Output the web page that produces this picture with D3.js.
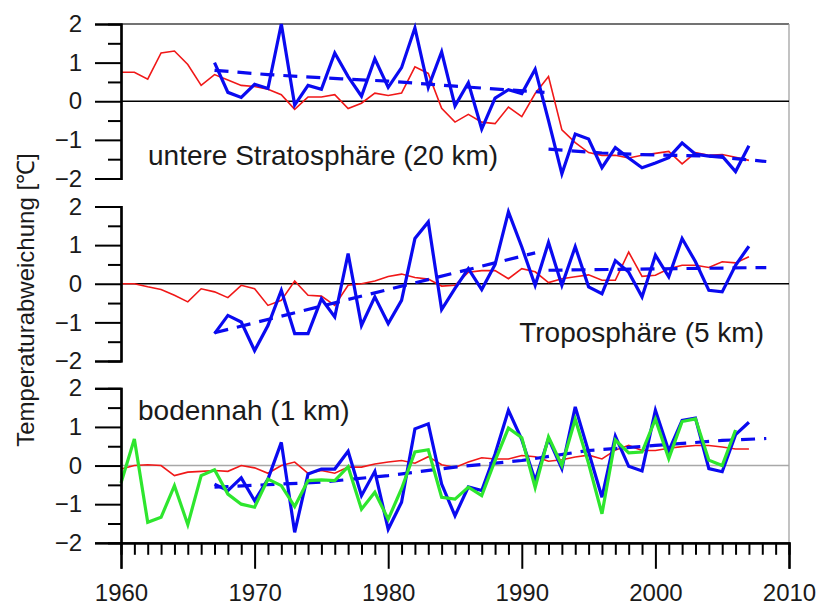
<!DOCTYPE html>
<html>
  <head>
    <meta charset="utf-8">
    <title>Temperaturabweichung</title>
    <script src="https://d3js.org/d3.v7.min.js"></script>
    <style>
      body { margin: 0; background: #fff; }
      svg text { font-family: "Liberation Sans", Arial, sans-serif; fill: #1a1a1a; }
    </style>
  </head>
  <body>
    <script>
      // years for the series
      var yearsRed = d3.range(1960, 2008);   // 1960..2007
      var yearsBlue = d3.range(1967, 2008);  // 1967..2007
      var yearsGreen = d3.range(1960, 2007); // 1960..2006

      // upper panel: untere Stratosphäre (20 km)
      var stratoRed = [0.75, 0.75, 0.57, 1.25, 1.3, 0.95, 0.41, 0.69, 0.55, 0.41,
        0.38, 0.31, 0.17, -0.21, 0.11, 0.11, 0.17, -0.19, -0.05, 0.21,
        0.15, 0.21, 0.89, 0.72, -0.18, -0.54, -0.34, -0.54, -0.58, -0.15,
        -0.4, 0.2, 0.64, -0.74, -1.07, -1.33, -1.4, -1.4, -1.47, -1.4,
        -1.35, -1.3, -1.62, -1.33, -1.4, -1.38, -1.45, -1.53];
      var stratoBlue = [1.0, 0.23, 0.1, 0.44, 0.33, 2.0, -0.1, 0.41, 0.31, 1.25,
        0.64, 0.13, 1.1, 0.36, 0.87, 1.9, 0.36, 1.28, -0.12, 0.48,
        -0.72, 0.08, 0.3, 0.2, 0.83, -0.5, -1.88, -0.85, -0.98, -1.72,
        -1.2, -1.47, -1.72, -1.6, -1.46, -1.08, -1.37, -1.42, -1.42, -1.82, -1.15];
      var stratoTrend = [
        [[1967, 0.8], [1971, 0.69], [1976.5, 0.58], [1980, 0.52], [1985, 0.39], [1991.7, 0.23]],
        [[1992, -1.24], [1996, -1.34], [1999, -1.38], [2004, -1.42], [2008.3, -1.56]]
      ];

      // middle panel: Troposphäre (5 km)
      var tropoRed = [0, 0, -0.08, -0.15, -0.3, -0.47, -0.13, -0.21, -0.36, -0.04,
        -0.13, -0.56, -0.43, 0.07, -0.3, -0.32, -0.56, -0.04, 0, 0.07,
        0.19, 0.25, 0.16, 0.12, -0.06, -0.04, 0.3, 0.34, 0.34, 0.13,
        0.39, 0.31, 0.03, 0.13, 0.18, 0.23, 0.09, 0.09, 0.82, 0.19,
        0.22, 0.39, 0.48, 0.48, 0.42, 0.57, 0.54, 0.7];
      var tropoBlue = [-1.29, -0.82, -0.99, -1.73, -1.08, -0.17, -1.29, -1.29, -0.39, -0.86,
        0.78, -1.08, -0.34, -1.03, -0.43, 1.17, 1.6, -0.67, -0.12, 0.39,
        -0.15, 0.5, 1.86, 0.95, -0.04, 1.07, -0.04, 0.96, -0.08, -0.26,
        0.6, 0.3, -0.34, 0.74, 0.18, 1.17, 0.57, -0.17, -0.21, 0.48, 0.97];
      var tropoTrend = [
        [[1967, -1.27], [1991, 0.8]],
        [[1992, 0.35], [2008.3, 0.42]]
      ];

      // lower panel: bodennah (1 km)
      var bodenRed = [-0.09, 0, 0.02, 0, -0.26, -0.17, -0.15, -0.13, -0.15, 0,
        -0.06, -0.2, 0, 0.09, -0.2, -0.13, -0.2, -0.04, -0.04, 0.04,
        0.09, 0.13, 0.06, 0.23, 0.02, -0.05, 0.09, 0.2, 0.17, 0.17,
        0.26, 0.23, 0.11, 0.15, 0.22, 0.27, 0.17, 0.4, 0.52, 0.39,
        0.39, 0.45, 0.49, 0.52, 0.52, 0.48, 0.43, 0.43];
      var bodenBlue = [-0.48, -0.65, -0.32, -0.91, -0.35, 0.6, -1.73, -0.22, -0.09, -0.09,
        0.37, -0.78, -0.15, -1.65, -0.95, 0.95, 1.08, -0.48, -1.3, -0.55,
        -0.65, 0.3, 1.43, 0.67, -0.39, 0.7, -0.08, 1.52, 0.35, -0.82,
        0.76, -0.02, -0.14, 1.43, 0.38, 1.17, 1.23, -0.08, -0.16, 0.8, 1.12];
      var bodenGreen = [-0.45, 0.69, -1.47, -1.34, -0.52, -1.53, -0.26, -0.11, -0.74, -1.0,
        -1.08, -0.35, -0.52, -1.06, -0.39, -0.37, -0.39, -0.03, -1.13, -0.69,
        -1.39, -0.6, 0.35, 0.41, -0.82, -0.87, -0.56, -0.78, 0.13, 0.97,
        0.72, -0.57, 0.74, 0.0, 1.2, 0.05, -1.25, 0.66, 0.33, 0.35,
        1.2, 0.18, 1.14, 1.21, 0.14, 0.0, 0.92];
      var bodenTrend = [
        [[1967, -0.56], [1975, -0.43], [1980, -0.26], [1985, -0.04], [1990, 0.13],
         [1995, 0.39], [2000, 0.52], [2005, 0.65], [2008.3, 0.7]]
      ];

      var panelNames = ["untere Stratosphäre (20 km)", "Troposphäre (5 km)", "bodennah (1 km)"];
      var yTicks = [-2, -1, 0, 1, 2];
      var xTicks = [1960, 1970, 1980, 1990, 2000, 2010];

      var w = 819, h = 607;
      var left = 121, right = 789;
      var panelTops = [24, 206.5, 388.3];
      var panelH = 154.5;

      var svg = d3.select("body").append("svg")
        .attr("width", w).attr("height", h);

      var x = d3.scaleLinear().domain([1960, 2010]).range([left, right]);

      var panels = [
        { red: stratoRed, blue: stratoBlue, trend: stratoTrend, green: null, zero: "#000" },
        { red: tropoRed, blue: tropoBlue, trend: tropoTrend, green: null, zero: "#000" },
        { red: bodenRed, blue: bodenBlue, trend: bodenTrend, green: bodenGreen, zero: "#a8a8a8" }
      ];

      function series(years, vals) {
        return years.map(function(yr, i) { return [yr, vals[i]]; });
      }

      // frame: top line and right border
      svg.append("line").attr("x1", left).attr("x2", right)
        .attr("y1", panelTops[0]).attr("y2", panelTops[0])
        .attr("stroke", "#444").attr("stroke-width", 1.5);
      svg.append("line").attr("x1", right).attr("x2", right)
        .attr("y1", panelTops[0]).attr("y2", panelTops[2] + panelH)
        .attr("stroke", "#9a9a9a").attr("stroke-width", 1.2);

      panels.forEach(function(p, k) {
        var y = d3.scaleLinear().domain([-2, 2]).range([panelTops[k] + panelH, panelTops[k]]);
        var line = d3.line().x(function(d) { return x(d[0]); }).y(function(d) { return y(d[1]); });
        var g = svg.append("g");

        // zero line
        g.append("line").attr("x1", left).attr("x2", right)
          .attr("y1", y(0)).attr("y2", y(0))
          .attr("stroke", p.zero).attr("stroke-width", 1.5);

        g.append("path").datum(series(yearsRed, p.red))
          .attr("d", line).attr("fill", "none")
          .attr("stroke", "#f01818").attr("stroke-width", 1.6);

        g.append("path").datum(series(yearsBlue, p.blue))
          .attr("d", line).attr("fill", "none")
          .attr("stroke", "#0a0af0").attr("stroke-width", 3.2)
          .attr("stroke-linejoin", "miter");

        p.trend.forEach(function(seg) {
          g.append("path").datum(seg)
            .attr("d", line).attr("fill", "none")
            .attr("stroke", "#0a0af0").attr("stroke-width", 3.2)
            .attr("stroke-dasharray", "14,9");
        });

        if (p.green) {
          g.append("path").datum(series(yearsGreen, p.green))
            .attr("d", line).attr("fill", "none")
            .attr("stroke", "#2ee62e").attr("stroke-width", 3.2);
        }

        // left axis: minor ticks every 0.5, major ticks with labels
        var minor = g.append("g").attr("transform", "translate(" + left + ",0)")
          .call(d3.axisLeft(y).tickValues(d3.range(-1.5, 2, 1)).tickSize(13).tickFormat(""));
        var major = g.append("g").attr("transform", "translate(" + left + ",0)")
          .call(d3.axisLeft(y).tickValues(yTicks).tickSize(26).tickPadding(13)
            .tickFormat(d3.format("d")));
        [minor, major].forEach(function(a) {
          a.select(".domain").attr("stroke", "#000").attr("stroke-width", 2.2);
          a.selectAll(".tick line").attr("stroke", "#000").attr("stroke-width", 2);
        });
        major.selectAll(".tick text").style("font-size", "24px").attr("fill", "#1a1a1a");
        major.selectAll(".tick").filter(function(d) { return d === 0; }).select("line")
          .attr("stroke", "#000");
      });

      // panel captions
      svg.append("text").attr("x", 148).attr("y", 165)
        .style("font-size", "28px").text(panelNames[0]);
      svg.append("text").attr("x", 764).attr("y", 342).attr("text-anchor", "end")
        .style("font-size", "28px").text(panelNames[1]);
      svg.append("text").attr("x", 138).attr("y", 420)
        .style("font-size", "28px").text(panelNames[2]);

      // bottom axis
      var axisY = panelTops[2] + panelH;
      var xMinor = svg.append("g").attr("transform", "translate(0," + axisY + ")")
        .call(d3.axisBottom(x).tickValues(d3.range(1961, 2010).filter(function(v) { return v % 10; }))
          .tickSize(12).tickFormat(""));
      var xMajor = svg.append("g").attr("transform", "translate(0," + axisY + ")")
        .call(d3.axisBottom(x).tickValues(xTicks).tickSize(26).tickPadding(15)
          .tickFormat(d3.format("d")));
      [xMinor, xMajor].forEach(function(a) {
        a.select(".domain").attr("stroke", "#000").attr("stroke-width", 2.2);
        a.selectAll(".tick line").attr("stroke", "#000").attr("stroke-width", 2);
      });
      xMajor.selectAll(".tick text").style("font-size", "24px").attr("fill", "#1a1a1a");

      // y title
      svg.append("text")
        .attr("transform", "translate(34,300) rotate(-90)")
        .attr("text-anchor", "middle")
        .style("font-size", "24px")
        .text("Temperaturabweichung [℃]");
    </script>
  </body>
</html>
